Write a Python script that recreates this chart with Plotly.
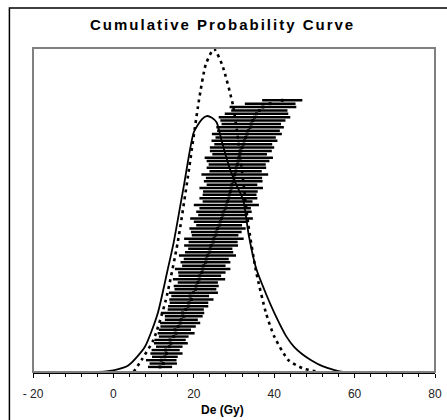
import plotly.graph_objects as go

# ---- data ----
de_values = [11.6, 12.4, 11.9, 12.8, 13.2, 13.0, 13.9, 14.3, 14.1, 15.0,
             15.6, 15.3, 16.1, 16.6, 16.9, 17.5, 17.2, 18.0, 18.6, 18.8,
             19.4, 19.1, 19.9, 20.4, 20.6, 21.0, 21.3, 21.5, 22.0, 22.2,
             22.5, 22.9, 23.1, 23.4, 23.8, 24.1, 24.3, 24.8, 25.0, 25.3,
             25.6, 25.9, 26.3, 26.6, 26.9, 27.2, 27.5, 27.8, 28.1, 28.4,
             28.6, 28.9, 29.1, 29.3, 29.5, 29.8, 30.0, 30.2, 30.4, 30.6,
             30.8, 31.0, 31.2, 31.4, 31.7, 32.0, 32.3, 32.6, 32.9, 33.2,
             33.6, 34.0, 34.3, 34.7, 35.1, 35.6, 36.3, 37.2, 39.0, 42.0]
de_errors = [3.0, 3.4, 3.8, 3.2, 4.0, 3.5, 3.3, 4.2, 3.9, 3.7,
             4.6, 4.0, 4.4, 5.0, 4.1, 4.7, 5.4, 4.5, 5.0, 4.8,
             5.5, 4.7, 6.1, 5.2, 5.6, 5.0, 6.5, 5.3, 5.9, 6.9,
             5.4, 6.2, 5.6, 7.1, 6.0, 5.5, 6.7, 6.1, 7.4, 5.8,
             6.3, 7.0, 5.7, 6.6, 7.8, 6.1, 6.9, 6.4, 8.1, 6.2,
             7.2, 6.7, 6.8, 7.9, 6.3, 7.3, 7.0, 8.3, 6.5, 7.4,
             7.1, 7.8, 8.5, 6.8, 7.7, 8.0, 7.2, 8.2, 7.5, 8.7,
             7.8, 8.4, 7.4, 8.1, 8.9, 7.9, 7.0, 8.3, 6.3, 5.0]
rank = list(range(1, len(de_values) + 1))

# summed probability curve (solid)
pd_x = [-3.7, 0.0, 3.7, 7.8, 11.0, 13.4, 15.0, 17.6, 20.0, 22.0, 23.2, 24.5,
        25.7, 27.0, 28.9, 30.5, 32.3, 33.7, 35.5, 38.0, 40.5, 43.0, 45.0,
        47.0, 49.4, 52.0, 55.0, 57.0]
pd_y = [0.0, 0.005, 0.02, 0.077, 0.18, 0.31, 0.40, 0.58, 0.74, 0.78, 0.79, 0.785,
        0.77, 0.71, 0.63, 0.58, 0.53, 0.42, 0.32, 0.24, 0.17, 0.11, 0.077,
        0.055, 0.035, 0.018, 0.006, 0.0]

# normal curve (dotted)
norm_x = [5.0, 7.0, 10.0, 13.0, 16.0, 18.5, 21.3, 23.0, 25.0, 27.0, 29.8,
          32.0, 33.5, 35.5, 38.0, 40.0, 43.5, 47.0, 51.0]
norm_y = [0.0, 0.037, 0.10, 0.22, 0.40, 0.60, 0.84, 0.95, 0.997, 0.95, 0.82,
          0.62, 0.46, 0.31, 0.18, 0.11, 0.037, 0.012, 0.0]

x_ticks = [-20, 0, 20, 40, 60, 80]
x_tick_labels = ['- 20', '0', '20', '40', '60', '80']

# ---- layout geometry ----
W, H = 447, 420
ml, mr, mt, mb = 33, 5, 48, 48
pw, ph = W - ml - mr, H - mt - mb


def px_x(px):
    return (px - ml) / pw


def px_y(py):
    return (H - mb - py) / ph


fig = go.Figure()

fig.add_trace(go.Scatter(
    x=de_values, y=rank, mode='markers',
    marker=dict(color='black', size=3, symbol='square'),
    error_x=dict(type='data', array=de_errors, color='black',
                 thickness=2.4, width=0),
    showlegend=False, hoverinfo='skip'))

fig.add_trace(go.Scatter(
    x=pd_x, y=pd_y, yaxis='y2', mode='lines',
    line=dict(color='black', width=1.8, shape='spline', smoothing=0.6),
    showlegend=False, hoverinfo='skip'))

fig.add_trace(go.Scatter(
    x=norm_x, y=norm_y, yaxis='y2', mode='lines',
    line=dict(color='black', width=2.6, dash='3px,4px', shape='spline', smoothing=0.6),
    showlegend=False, hoverinfo='skip'))

tick_font = dict(family='Liberation Sans Narrow, Arial Narrow, Liberation Sans, Arial',
                 size=12, color='#222222')

fig.update_layout(
    width=W, height=H,
    margin=dict(l=ml, r=mr, t=mt, b=mb),
    paper_bgcolor='white', plot_bgcolor='white',
    xaxis=dict(range=[-20, 80], tickvals=x_ticks, ticktext=x_tick_labels,
               ticks='outside', ticklen=4, tickcolor='black', tickwidth=1,
               showline=True, linecolor='black', linewidth=1.5,
               showgrid=False, zeroline=False, tickfont=tick_font,
               ticklabelstandoff=6, ticklabeloverflow='allow',
               minor=dict(dtick=4, tick0=-20, ticks='outside', ticklen=3,
                          tickcolor='black', showgrid=False)),
    yaxis=dict(range=[-0.5, 95.5], showticklabels=False, ticks='',
               showgrid=False, zeroline=False, showline=False),
    yaxis2=dict(range=[0, 1.0], overlaying='y', showticklabels=False,
                ticks='', showgrid=False, zeroline=False, showline=False),
    shapes=[
        dict(type='rect', xref='paper', yref='paper',
             x0=px_x(9), x1=px_x(470), y0=px_y(450), y1=px_y(8),
             line=dict(color='black', width=1.5), layer='below'),
        dict(type='rect', xref='paper', yref='paper', x0=0, x1=1, y0=0, y1=1,
             line=dict(color='#808080', width=2)),
    ],
    annotations=[
        dict(text='<span style="letter-spacing:2px">Cumulative Probability Curve</span>',
             xref='paper', yref='paper',
             x=px_x(226), y=px_y(25), showarrow=False, xanchor='center', yanchor='middle',
             font=dict(family='Liberation Sans, Arial', size=15, color='black',
                       weight='bold')),
        dict(text='De (Gy)', xref='paper', yref='paper',
             x=px_x(226), y=px_y(410), showarrow=False, xanchor='center', yanchor='middle',
             font=dict(family='Liberation Sans Narrow, Arial Narrow, Liberation Sans, Arial',
                       size=12, color='black', weight='bold')),
    ],
)

fig.write_html('out.html', config={'displayModeBar': False},
               post_script="document.body.style.margin='0px';")
